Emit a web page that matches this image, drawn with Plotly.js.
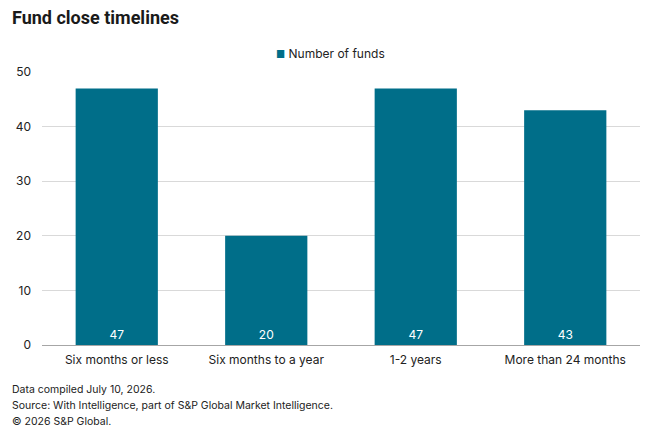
<!DOCTYPE html>
<html>
<head>
<meta charset="utf-8">
<script src="https://cdn.plot.ly/plotly-3.0.1.min.js"></script>
<style>
  html, body { margin: 0; padding: 0; background: #fff; }
  #chart { width: 660px; height: 437px; }
</style>
</head>
<body>
<div id="chart"></div>
<script>
// Fund close timeline buckets and fund counts
const categories = ["Six months or less", "Six months to a year", "1-2 years", "More than 24 months"];
const numberOfFunds = [47, 20, 47, 43];
const seriesName = "Number of funds";
const yTicks = [0, 10, 20, 30, 40, 50];
const footnotes = [
  "Data compiled July 10, 2026.",
  "Source: With Intelligence, part of S&P Global Market Intelligence.",
  "© 2026 S&P Global."
];

const FONT = "Inter, 'Noto Sans', Arial, sans-serif";
const TITLE_FONT = "Roboto, Inter, Arial, sans-serif";
const BAR_COLOR = "#006e89";
const TEXT_COLOR = "#222222";

const trace = {
  type: "bar",
  x: categories,
  y: numberOfFunds,
  name: seriesName,
  marker: { color: BAR_COLOR },
  text: numberOfFunds.map(String),
  textposition: "inside",
  insidetextanchor: "start",
  textangle: 0,
  textfont: { family: FONT, size: 12, color: "#ffffff" },
  showlegend: false,
  hoverinfo: "x+y"
};

// Legend key drawn as a compact swatch + label, centred above the plot
const legendKey = {
  xref: "paper", yref: "paper",
  x: 0.483, y: 1.066, xanchor: "center", yanchor: "middle",
  showarrow: false,
  font: { family: FONT, size: 12, color: TEXT_COLOR },
  text: `<span style="color:${BAR_COLOR};font-size:10px">■</span> ${seriesName}`
};

// Footnote lines, one annotation per line, anchored in pixels below the plot
const footnoteAnnotations = footnotes.map((line, i) => ({
  xref: "paper", yref: "paper",
  x: -32 / 598, y: (345 - 389 - 16 * i) / 273,
  xanchor: "left", yanchor: "middle",
  align: "left", showarrow: false,
  font: { family: FONT, size: 10.5, color: TEXT_COLOR },
  text: line
}));

const layout = {
  width: 660,
  height: 437,
  margin: { l: 42, r: 20, t: 72, b: 92 },
  paper_bgcolor: "#ffffff",
  plot_bgcolor: "#ffffff",
  font: { family: FONT, size: 12, color: TEXT_COLOR },
  title: {
    text: "<b>Fund close timelines</b>",
    xref: "container", x: 0, xanchor: "left",
    yref: "container", y: 1 - 18 / 437, yanchor: "middle",
    pad: { l: 12 },
    font: { family: TITLE_FONT, size: 18, color: "#1a1a1a" }
  },
  showlegend: false,
  bargap: 0.45,
  xaxis: {
    type: "category",
    showgrid: false,
    showline: false,
    ticks: "",
    ticklabelstandoff: 6,
    tickfont: { family: FONT, size: 12, color: TEXT_COLOR }
  },
  yaxis: {
    range: [0, 50],
    tickvals: yTicks,
    ticktext: yTicks.map(String),
    showgrid: true,
    gridcolor: "#d9d9d9",
    gridwidth: 1,
    zeroline: true,
    zerolinecolor: "#a6a6a6",
    zerolinewidth: 1,
    showline: false,
    ticks: "",
    ticklabelstandoff: 10,
    tickfont: { family: FONT, size: 12, color: TEXT_COLOR }
  },
  annotations: [legendKey, ...footnoteAnnotations]
};

Plotly.newPlot("chart", [trace], layout, { displayModeBar: false, staticPlot: true });
</script>
</body>
</html>
